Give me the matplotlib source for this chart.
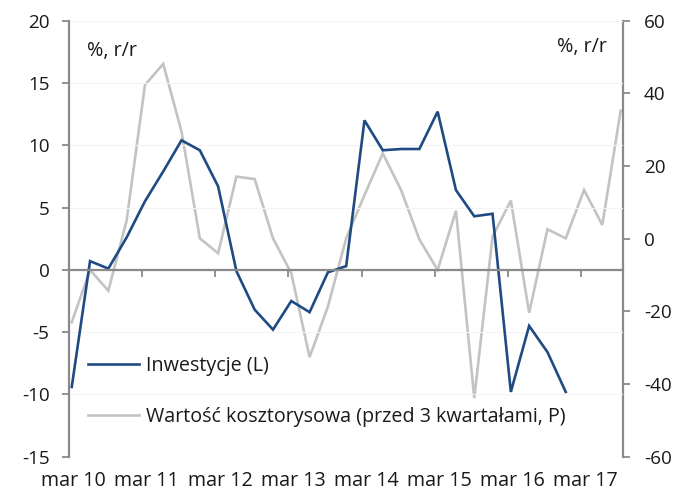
import matplotlib
matplotlib.use("Agg")
import matplotlib.pyplot as plt
import matplotlib.transforms as mtransforms

plt.rcParams['font.family'] = ['Open Sans', 'DejaVu Sans']

# Quarterly data, starting in March 2010
year_labels = ["mar 10", "mar 11", "mar 12", "mar 13", "mar 14", "mar 15", "mar 16", "mar 17"]

# Investment, % y/y (left axis)
inwestycje = [-9.4, 0.7, 0.1, 2.6, 5.5, 7.9, 10.4, 9.6, 6.7, -0.1,
              -3.2, -4.8, -2.5, -3.4, -0.2, 0.3, 12.0, 9.6, 9.7, 9.7,
              12.7, 6.4, 4.3, 4.5, -9.8, -4.5, -6.6, -9.8]

# Cost-estimate value of tenders, lagged 3 quarters, % y/y (right axis)
wartosc = [-23.0, -8.6, -14.3, 5.0, 42.3, 48.1, 29.5, 0.1, -4.0, 17.1,
           16.4, 0.1, -9.5, -32.6, -18.7, 0.1, 12.0, 23.5, 13.4, -0.2,
           -8.6, 7.7, -43.9, 0.6, 10.5, -20.4, 2.6, 0.1, 13.4, 3.8, 35.2]

left_ticks = [-15, -10, -5, 0, 5, 10, 15, 20]
right_ticks = [-60, -40, -20, 0, 20, 40, 60]

label_inw = "Inwestycje (L)"
label_wart = "Wartość kosztorysowa (przed 3 kwartałami, P)"

BLUE = "#1f4a82"
GREY = "#c3c3c3"
AXIS = "#8a8a8a"
TEXT = "#1a1a1a"
FS_TICK = 13.6
FS = 14.2

W, H = 678, 491
fig = plt.figure(figsize=(W / 100, H / 100), dpi=100)
ax = fig.add_axes([69 / W, 1 - 456.7 / H, (623 - 69) / W, (456.7 - 20.7) / H])
ax2 = ax.twinx()

x_inw = list(range(len(inwestycje)))
x_wart = list(range(len(wartosc)))

ln2, = ax2.plot(x_wart, wartosc, color=GREY, lw=1.9, solid_joinstyle='miter',
                label=label_wart)
ln1, = ax.plot(x_inw, inwestycje, color=BLUE, lw=1.9, solid_joinstyle='miter',
               label=label_inw)

# Blue series above the grey one
ax.set_zorder(ax2.get_zorder() + 1)
ax.patch.set_visible(False)

ax.set_xlim(-0.15, 30.13)
ax.set_ylim(left_ticks[0], left_ticks[-1])
ax2.set_ylim(right_ticks[0], right_ticks[-1])

ax.set_yticks(left_ticks)
ax.set_yticklabels([str(v) for v in left_ticks])
ax2.set_yticks(right_ticks)
ax2.set_yticklabels([str(v) for v in right_ticks])

# Faint horizontal gridlines on the left scale
for v in left_ticks:
    ax.axhline(v, color="#f4f4f4", lw=0.8, zorder=0)

for a in (ax, ax2):
    a.spines['top'].set_visible(False)
    a.spines['left'].set_color(AXIS)
    a.spines['right'].set_color(AXIS)
    a.spines['left'].set_linewidth(1.6)
    a.spines['right'].set_linewidth(1.6)
ax2.spines['bottom'].set_visible(False)
ax.spines['right'].set_visible(False)
ax2.spines['left'].set_visible(False)

# Category axis crosses at zero
ax.spines['bottom'].set_position(('data', 0))
ax.spines['bottom'].set_color(AXIS)
ax.spines['bottom'].set_linewidth(1.6)
n_years = len(year_labels)
ax.set_xticks([4 * k - 0.16 for k in range(1, n_years)])
ax.tick_params(axis='x', direction='out', length=5, width=1.3, color=AXIS,
               labelbottom=False)

ax.tick_params(axis='y', direction='out', length=5, width=1.3, color=AXIS,
               labelsize=FS_TICK, labelcolor=TEXT, pad=9)
ax2.tick_params(axis='y', direction='out', length=5, width=1.3, color=AXIS,
                labelsize=FS_TICK, labelcolor=TEXT, pad=10)

# Year labels below the plot area
trans = mtransforms.blended_transform_factory(ax.transData, ax.transAxes)
for k, lab in enumerate(year_labels):
    ax.text(4 * k + 0.1, -(481 - 456.7) / 436, lab, transform=trans, ha='center',
            va='center', fontsize=FS, color=TEXT)

# Unit labels
fig.text(87 / W, 1 - 51 / H, "%, r/r", ha='left', va='center', fontsize=FS, color=TEXT)
fig.text(607 / W, 1 - 47 / H, "%, r/r", ha='right', va='center', fontsize=FS, color=TEXT)

leg = ax.legend(handles=[ln1, ln2], loc='upper left',
                bbox_to_anchor=(88 / W, 1 - 356 / H), bbox_transform=fig.transFigure,
                frameon=False, fontsize=FS, handlelength=2.6, handletextpad=0.35,
                labelspacing=1.55, borderpad=0, borderaxespad=0)
for t in leg.get_texts():
    t.set_color(TEXT)

fig.savefig("out.png", dpi=100)
